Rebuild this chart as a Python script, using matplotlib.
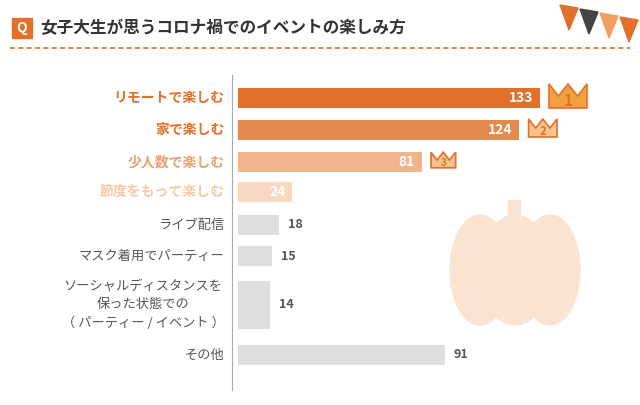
import matplotlib
matplotlib.use("Agg")
import matplotlib.pyplot as plt
from matplotlib.patches import Ellipse, Polygon, Rectangle

plt.rcParams["font.family"] = "Noto Sans CJK JP"

categories = ["リモートで楽しむ", "家で楽しむ", "少人数で楽しむ", "節度をもって楽しむ", "ライブ配信",
              "マスク着用でパーティー", "ソーシャルディスタンスを\n保った状態での\n（ パーティー / イベント ）", "その他"]
values = [133, 124, 81, 24, 18, 15, 14, 91]
title = "女子大生が思うコロナ禍でのイベントの楽しみ方"

bar_colors = ["#e0702a", "#e38a4c", "#f0b58c", "#f8d8c0", "#dedede", "#dedede", "#dedede", "#dedede"]
label_colors = ["#e0702a", "#e0702a", "#eba070", "#f5c9a5", "#555555", "#555555", "#555555", "#555555"]
ypos = [98, 130, 162, 192, 225, 256, 305, 355]
heights = [20, 20, 20, 20, 20, 20, 48, 20]

W, H = 640, 405
fig = plt.figure(figsize=(6.4, 4.05), dpi=100)
bg = fig.add_axes([0, 0, 1, 1])
bg.set_xlim(0, W); bg.set_ylim(H, 0); bg.axis("off")
bg.add_patch(Rectangle((12, 18), 20, 20, color="#e0702a"))
bg.text(22, 28, "Q", color="white", ha="center", va="center", fontsize=10, fontweight="bold")
bg.text(40, 28, title, color="#333333", ha="left", va="center", fontsize=12, fontweight="bold")
bg.plot([10, 630], [48, 48], ls=(0, (3, 2)), color="#e0702a", lw=1.2)
for cx, w in [(480, 60), (515, 70), (550, 60)]:
    bg.add_patch(Ellipse((cx, 270), w, 110, color="#fbe3d2", zorder=0))
bg.add_patch(Rectangle((508, 200), 12, 20, color="#fbe3d2", zorder=0))
for i, c in enumerate(["#e0702a", "#444444", "#f0a060", "#e0702a"]):
    x0 = 560 + i * 20
    bg.add_patch(Polygon([[x0, 5 + i*4], [x0 + 18, 8 + i*4], [x0 + 9, 30 + i*4]], color=c))

ax = fig.add_axes([232 / W, 1 - 390 / H, (W - 232) / W, (390 - 75) / H])
ax.patch.set_alpha(0)
ax.set_ylim(390, 75)
ax.set_xlim(-6 / 2.27, (W - 232 - 6) / 2.27)
ax.barh(ypos, values, height=heights, color=bar_colors, left=0)
for i, (v, y) in enumerate(zip(values, ypos)):
    if i < 4:
        ax.text(v - 3, y, str(v), color="white", ha="right", va="center", fontsize=10, fontweight="bold")
    else:
        ax.text(v + 4, y, str(v), color="#555555", ha="left", va="center", fontsize=9, fontweight="bold")
    ax.text(-6, y, categories[i], color=label_colors[i], ha="right", va="center", multialignment="center",
            fontsize=10 if i < 4 else 9.5, fontweight="bold" if i < 4 else "normal", linespacing=1.5)
for i, s in enumerate([1.0, 0.75, 0.65]):
    x = values[i] + 4
    y = ypos[i] - 2
    cw, ch = 38 * s / 2.27, 24 * s
    pts = [[x, y + ch/2], [x, y - ch/2], [x + cw*0.25, y], [x + cw*0.5, y - ch/2],
           [x + cw*0.75, y], [x + cw, y - ch/2], [x + cw, y + ch/2]]
    ax.add_patch(Polygon(pts, facecolor="#f6c48f" if i else "#f0a040", edgecolor="#e0702a", lw=1.2, clip_on=False))
    ax.text(x + cw/2, y + ch*0.2, str(i + 1), ha="center", va="center", fontsize=11*s, color="#e0702a", fontweight="bold")
ax.set_xticks([]); ax.set_yticks([])
for k in ["top", "right", "bottom"]:
    ax.spines[k].set_visible(False)
ax.spines["left"].set_color("#aaaaaa")
fig.savefig("out.png", dpi=100)
